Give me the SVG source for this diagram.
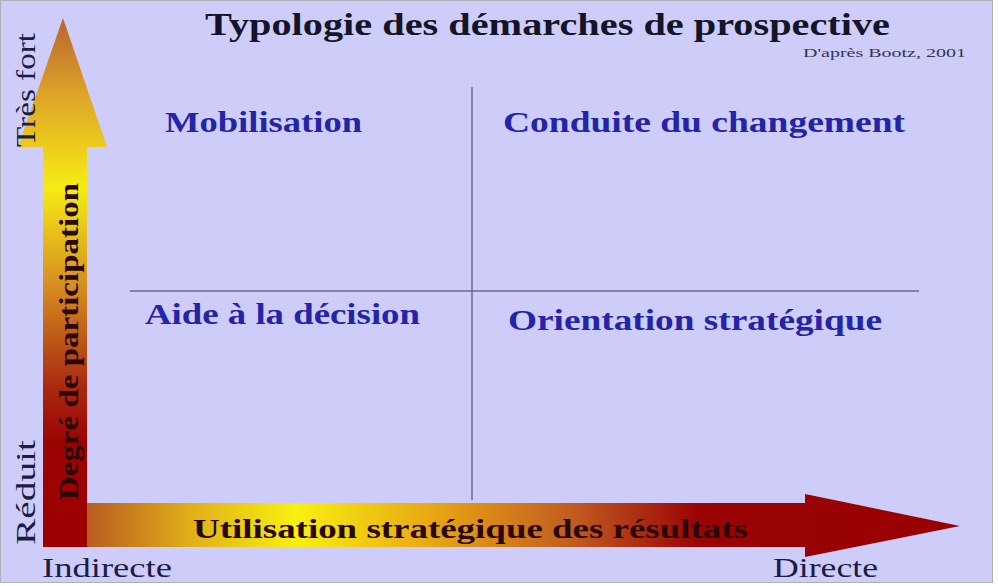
<svg xmlns="http://www.w3.org/2000/svg" width="998" height="586" viewBox="0 0 998 586">
<defs>
<linearGradient id="gv" gradientUnits="userSpaceOnUse" x1="0" y1="18" x2="0" y2="547">
<stop offset="0" stop-color="#b8642c"/>
<stop offset="0.15" stop-color="#e0a628"/>
<stop offset="0.32" stop-color="#f6ec14"/>
<stop offset="0.5" stop-color="#d89020"/>
<stop offset="0.7" stop-color="#a82810"/>
<stop offset="0.8" stop-color="#9c0404"/>
<stop offset="1" stop-color="#9c0000"/>
</linearGradient>
<linearGradient id="gh" gradientUnits="userSpaceOnUse" x1="87" y1="0" x2="960" y2="0">
<stop offset="0" stop-color="#b85c22"/>
<stop offset="0.12" stop-color="#e0b018"/>
<stop offset="0.24" stop-color="#f8f010"/>
<stop offset="0.4" stop-color="#e8a414"/>
<stop offset="0.56" stop-color="#c05a20"/>
<stop offset="0.7" stop-color="#9a0404"/>
<stop offset="1" stop-color="#990000"/>
</linearGradient>
</defs>
<style>
.q{font-family:"Liberation Serif","Times New Roman",serif;font-weight:bold;font-size:29px;fill:#2424a8}
.ax{font-family:"Liberation Serif","Times New Roman",serif;font-size:27px;fill:#1c1c44}
.in{font-family:"Liberation Serif","Times New Roman",serif;font-weight:bold;font-size:28px;fill:#2a0808}
.ln{stroke:#6a6a88;stroke-width:1.5;fill:none}
</style>
<rect x="0.5" y="0.5" width="992" height="582" fill="#cecdfa" stroke="#b0b0b8"/>
<g id="title">
<text x="205" y="35" textLength="685" lengthAdjust="spacingAndGlyphs" style="font-family:'Liberation Serif','Times New Roman',serif;font-weight:bold;font-size:32px;fill:#141428">Typologie des démarches de prospective</text>
<text x="803" y="57" textLength="163" lengthAdjust="spacingAndGlyphs" style="font-family:'Liberation Serif','Times New Roman',serif;font-size:13px;fill:#333355">D'après Bootz, 2001</text>
</g>
<g id="connectors">
<line class="ln" x1="472" y1="87" x2="472" y2="500"/>
<line class="ln" x1="130" y1="291" x2="919" y2="291"/>
</g>
<g id="axis-vertical">
<path d="M43 547 L43 147 L18 147 L63 18 L107 147 L87 147 L87 547 Z" fill="url(#gv)"/>
</g>
<g id="axis-horizontal">
<path d="M87 503 L805 503 L805 494 L960 526 L805 557 L805 547 L87 547 Z" fill="url(#gh)"/>
<rect x="43" y="500" width="44" height="47" fill="#9c0000"/>
</g>
<g id="axis-labels">
<text class="in" transform="translate(78,500) rotate(-90)" textLength="317" lengthAdjust="spacingAndGlyphs">Degré de participation</text>
<text class="in" x="193" y="538" textLength="555" lengthAdjust="spacingAndGlyphs">Utilisation stratégique des résultats</text>
<text class="ax" transform="translate(35,147) rotate(-90)" textLength="114" lengthAdjust="spacingAndGlyphs">Très fort</text>
<text class="ax" transform="translate(35,545) rotate(-90)" textLength="105" lengthAdjust="spacingAndGlyphs">Réduit</text>
<text class="ax" x="42" y="577" textLength="130" lengthAdjust="spacingAndGlyphs">Indirecte</text>
<text class="ax" x="773" y="577" textLength="105" lengthAdjust="spacingAndGlyphs">Directe</text>
</g>
<g id="mobilisation"><text class="q" x="165" y="132" textLength="197" lengthAdjust="spacingAndGlyphs">Mobilisation</text></g>
<g id="conduite"><text class="q" x="503" y="132" textLength="402" lengthAdjust="spacingAndGlyphs">Conduite du changement</text></g>
<g id="aide"><text class="q" x="145" y="324" textLength="275" lengthAdjust="spacingAndGlyphs">Aide à la décision</text></g>
<g id="orientation"><text class="q" x="508" y="330" textLength="374" lengthAdjust="spacingAndGlyphs">Orientation stratégique</text></g>
</svg>
